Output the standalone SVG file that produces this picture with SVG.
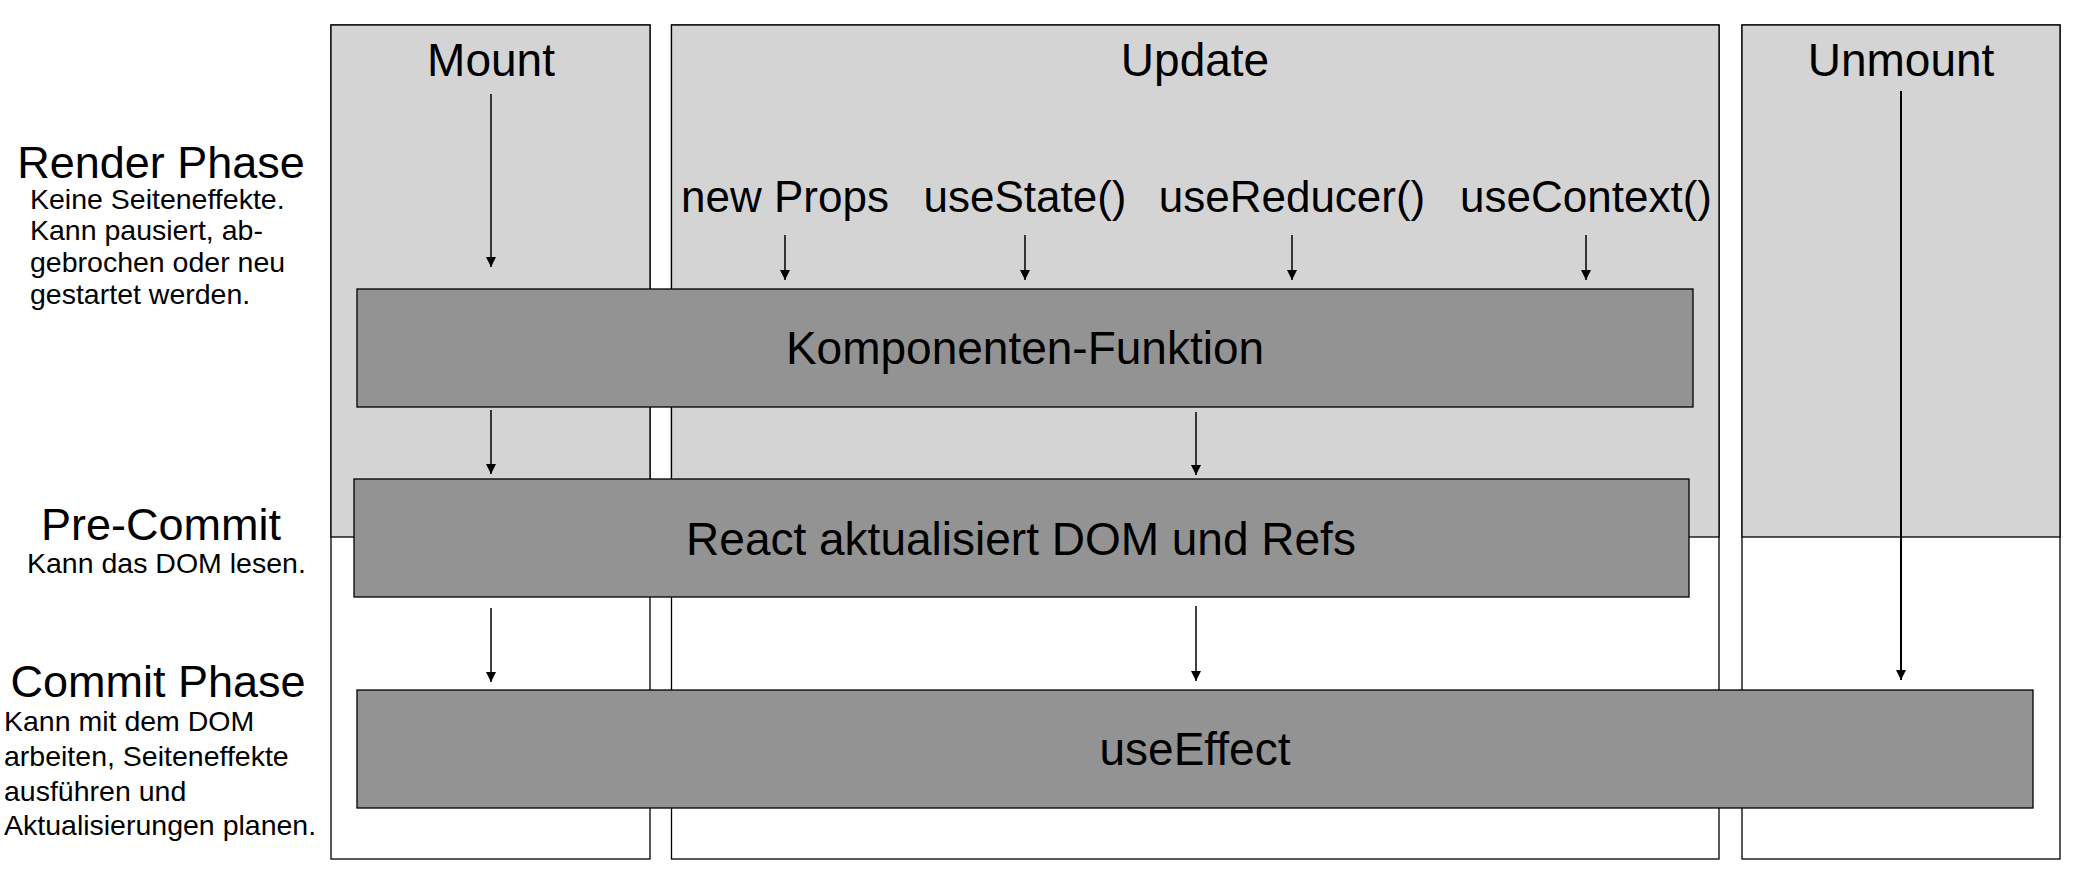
<svg xmlns="http://www.w3.org/2000/svg" width="2092" height="878" viewBox="0 0 2092 878">
<style>
text{font-family:"Liberation Sans",Arial,Helvetica,sans-serif;fill:#000}
.col{fill:#fff;stroke:#000;stroke-width:1.3}
.colTop{fill:#d4d4d4;stroke:#000;stroke-width:1.3}
.box{fill:#939393;stroke:#000;stroke-width:1.3}
.hdr{font-size:46px;text-anchor:middle}
.hook{font-size:44px;text-anchor:middle}
.btxt{font-size:46px;text-anchor:middle}
.phase{font-size:45px;text-anchor:middle}
.sub{font-size:28.5px}
.arr{stroke:#000;stroke-width:1.5;fill:none;marker-end:url(#ah)}
</style>
<defs>
<marker id="ah" markerUnits="userSpaceOnUse" markerWidth="10" markerHeight="10" refX="10" refY="5" orient="auto">
<path d="M0,0 L10,5 L0,10 z" fill="#000"/>
</marker>
</defs>
<rect width="2092" height="878" fill="#fff"/>

<g id="phase-labels">
<text class="phase" x="161" y="178">Render Phase</text>
<text class="sub" x="30" y="209">Keine Seiteneffekte.</text>
<text class="sub" x="30" y="240">Kann pausiert, ab-</text>
<text class="sub" x="30" y="272">gebrochen oder neu</text>
<text class="sub" x="30" y="304">gestartet werden.</text>
<text class="phase" x="161" y="540">Pre-Commit</text>
<text class="sub" x="27" y="573">Kann das DOM lesen.</text>
<text class="phase" x="158" y="697">Commit Phase</text>
<text class="sub" x="4" y="731">Kann mit dem DOM</text>
<text class="sub" x="4" y="766">arbeiten, Seiteneffekte</text>
<text class="sub" x="4" y="801">ausführen und</text>
<text class="sub" x="4" y="835">Aktualisierungen planen.</text>
</g>

<g id="col-mount">
<rect class="col" x="331" y="25" width="319" height="834"/>
<rect class="colTop" x="331" y="25" width="319" height="512"/>
<text class="hdr" x="491" y="76">Mount</text>
</g>
<g id="col-update">
<rect class="col" x="671.5" y="25" width="1047.5" height="834"/>
<rect class="colTop" x="671.5" y="25" width="1047.5" height="512"/>
<text class="hdr" x="1195" y="76">Update</text>
<text class="hook" x="785" y="212">new Props</text>
<text class="hook" x="1025" y="212">useState()</text>
<text class="hook" x="1292" y="212">useReducer()</text>
<text class="hook" x="1586" y="212">useContext()</text>
</g>
<g id="col-unmount">
<rect class="col" x="1742" y="25" width="318" height="834"/>
<rect class="colTop" x="1742" y="25" width="318" height="512"/>
<text class="hdr" x="1901" y="76">Unmount</text>
</g>

<g id="connectors">
<line class="arr" x1="491" y1="94" x2="491" y2="267"/>
<line class="arr" x1="491" y1="410" x2="491" y2="474"/>
<line class="arr" x1="491" y1="608" x2="491" y2="682"/>
<line class="arr" x1="785" y1="235" x2="785" y2="280"/>
<line class="arr" x1="1025" y1="235" x2="1025" y2="280"/>
<line class="arr" x1="1292" y1="235" x2="1292" y2="280"/>
<line class="arr" x1="1586" y1="235" x2="1586" y2="280"/>
<line class="arr" x1="1196" y1="412" x2="1196" y2="475"/>
<line class="arr" x1="1196" y1="606" x2="1196" y2="681"/>
<line class="arr" x1="1901" y1="91" x2="1901" y2="680" style="stroke-width:2"/>
</g>

<g id="box-komponenten">
<rect class="box" x="357" y="289" width="1336" height="118"/>
<text class="btxt" x="1025" y="364">Komponenten-Funktion</text>
</g>
<g id="box-react">
<rect class="box" x="354" y="479" width="1335" height="118"/>
<text class="btxt" x="1021" y="555">React aktualisiert DOM und Refs</text>
</g>
<g id="box-useeffect">
<rect class="box" x="357" y="690" width="1676" height="118"/>
<text class="btxt" x="1195" y="765">useEffect</text>
</g>
</svg>
